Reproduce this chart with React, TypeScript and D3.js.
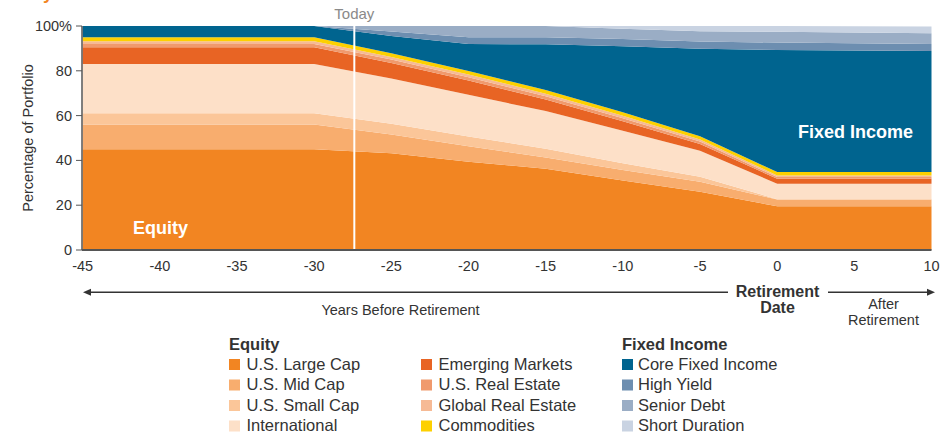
import React from "react";
import * as d3 from "d3";

const years = [-45, -30, -25, -20, -15, -10, -5, 0, 10];
const largeCap = [45, 45, 43.2, 39.4, 36.3, 31, 26, 19.5, 19.5];
const midCap = [11, 11, 8.4, 6.9, 5, 4.7, 4.5, 3, 3];
const smallCap = [5, 5, 4.8, 4.4, 3.9, 3, 2.2, 0.2, 0.2];
const international = [22, 22, 20.2, 18.6, 16.8, 14.5, 11.6, 6.9, 6.9];
const emerging = [7.5, 7.5, 6.9, 6.4, 5.2, 4.3, 3, 2.2, 2.2];
const usRealEstate = [1.5, 1.5, 1.5, 1.4, 1.4, 1.3, 1.1, 0.8, 0.8];
const globalRealEstate = [1.2, 1.2, 1.2, 1.2, 1.2, 1.1, 0.9, 0.7, 0.7];
const commodities = [1.8, 1.8, 1.6, 1.6, 1.6, 1.6, 1.5, 1.5, 1.5];
const coreFixed = [5, 5, 7.7, 12.1, 20.4, 29.5, 39, 54.5, 54];
const highYield = [0, 0, 2, 3, 3.2, 3.2, 3.3, 3.3, 3.2];
const seniorDebt = [0, 0, 2.5, 5, 5, 4.6, 4.6, 4.8, 4.8];
const shortDuration = [0, 0, 0, 0, 0, 1.2, 2.3, 2.6, 3];

const seriesNames = [
  "U.S. Large Cap", "U.S. Mid Cap", "U.S. Small Cap", "International",
  "Emerging Markets", "U.S. Real Estate", "Global Real Estate", "Commodities",
  "Core Fixed Income", "High Yield", "Senior Debt", "Short Duration",
];
const seriesValues = [
  largeCap, midCap, smallCap, international, emerging, usRealEstate,
  globalRealEstate, commodities, coreFixed, highYield, seniorDebt, shortDuration,
];
const colors = [
  "#f28522", "#f8ad6e", "#fbc699", "#fde0c8", "#e86424", "#f09a6d",
  "#f6ba95", "#fdd000", "#00648f", "#6d8eb0", "#9aadc5", "#c9d3e2",
];

const yTicks = [0, 20, 40, 60, 80, 100];
const xTicks = [-45, -40, -35, -30, -25, -20, -15, -10, -5, 0, 5, 10];
const todayYear = -27.4;

const equityLegend = [
  ["U.S. Large Cap", "U.S. Mid Cap", "U.S. Small Cap", "International"],
  ["Emerging Markets", "U.S. Real Estate", "Global Real Estate", "Commodities"],
];
const fixedLegend = ["Core Fixed Income", "High Yield", "Senior Debt", "Short Duration"];

export default function App() {
  const W = 951, H = 437;
  const x = d3.scaleLinear().domain([-45, 10]).range([82.7, 931.5]);
  const y = d3.scaleLinear().domain([0, 100]).range([250, 26]);

  const table = years.map((yr, i) => {
    const row: any = { year: yr };
    seriesNames.forEach((n, k) => (row[n] = seriesValues[k][i]));
    return row;
  });
  const stacked = d3.stack().keys(seriesNames)(table as any);
  const area = d3
    .area<any>()
    .x((d) => x(d.data.year))
    .y0((d) => y(d[0]))
    .y1((d) => y(d[1]))
    .curve(d3.curveLinear);

  const colorOf = (name: string) => colors[seriesNames.indexOf(name)];
  const font = "Liberation Sans, Arial, sans-serif";
  const txt = "#333";

  const legendRowY = [369.5, 390, 410.5, 431];

  return (
    <svg
      width={W}
      height={H}
      style={{ position: "absolute", left: 0, top: 0 }}
      fontFamily={font}
    >
      <text x={43} y={-1} fontSize={18} fontWeight="bold" fill="#f28522">y</text>

      {stacked.map((s, k) => (
        <path key={k} d={area(s as any) || ""} fill={colors[k]} />
      ))}

      {/* Today line */}
      <line x1={x(todayYear)} x2={x(todayYear)} y1={y(100)} y2={y(0)} stroke="#fff" strokeWidth={2} />
      <text x={x(todayYear)} y={19} textAnchor="middle" fontSize={15} fill="#8a8a8a">Today</text>

      {/* axes */}
      <line x1={82} x2={82} y1={y(100)} y2={y(0)} stroke="#555" strokeWidth={1.5} />
      <line x1={82} x2={931.5} y1={y(0)} y2={y(0)} stroke="#555" strokeWidth={2} />
      {yTicks.map((t) => (
        <g key={t}>
          <line x1={76} x2={82} y1={y(t)} y2={y(t)} stroke="#555" strokeWidth={1} />
          <text x={72} y={y(t) + 5} textAnchor="end" fontSize={14.5} fill={txt}>
            {t === 100 ? "100%" : t}
          </text>
        </g>
      ))}
      {xTicks.map((t) => (
        <text key={t} x={x(t)} y={271} textAnchor="middle" fontSize={14.5} fill={txt}>
          {t}
        </text>
      ))}
      <text
        transform={`translate(33,138) rotate(-90)`}
        textAnchor="middle"
        fontSize={14.5}
        fill={txt}
      >
        Percentage of Portfolio
      </text>

      {/* in-chart labels */}
      <text x={133} y={234} fontSize={18} fontWeight="bold" fill="#fff">Equity</text>
      <text x={798} y={137.5} fontSize={18} fontWeight="bold" fill="#fff">Fixed Income</text>

      {/* arrows */}
      <line x1={88} x2={728} y1={292.3} y2={292.3} stroke="#333" strokeWidth={1.5} />
      <polygon points="83,292.3 91,288.8 91,295.8" fill="#333" />
      <line x1={828} x2={929} y1={292.3} y2={292.3} stroke="#333" strokeWidth={1.5} />
      <polygon points="935,292.3 927,288.8 927,295.8" fill="#333" />
      <text x={777.5} y={297} textAnchor="middle" fontSize={16} fontWeight="bold" fill={txt}>Retirement</text>
      <text x={777.5} y={312.5} textAnchor="middle" fontSize={16} fontWeight="bold" fill={txt}>Date</text>
      <text x={883.5} y={308.5} textAnchor="middle" fontSize={14.5} fill={txt}>After</text>
      <text x={883.5} y={325} textAnchor="middle" fontSize={14.5} fill={txt}>Retirement</text>
      <text x={400.5} y={315} textAnchor="middle" fontSize={14.5} fill={txt}>Years Before Retirement</text>

      {/* legend */}
      <text x={229} y={350} fontSize={16.5} fontWeight="bold" fill={txt}>Equity</text>
      <text x={622} y={350} fontSize={16.5} fontWeight="bold" fill={txt}>Fixed Income</text>
      {[
        { sx: 229, tx: 246.5, items: equityLegend[0] },
        { sx: 421, tx: 438.5, items: equityLegend[1] },
        { sx: 622, tx: 638, items: fixedLegend },
      ].map((col, ci) =>
        col.items.map((name, ri) => (
          <g key={`${ci}-${ri}`}>
            <rect x={col.sx} y={legendRowY[ri] - 10.5} width={11} height={11} fill={colorOf(name)} />
            <text x={col.tx} y={legendRowY[ri]} fontSize={16.5} fill={txt}>{name}</text>
          </g>
        ))
      )}
    </svg>
  );
}
